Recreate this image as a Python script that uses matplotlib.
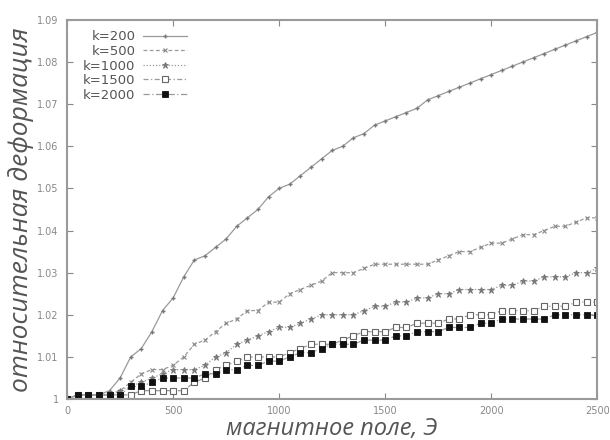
import matplotlib
matplotlib.use("Agg")
import matplotlib.pyplot as plt
from matplotlib.ticker import FixedLocator

field = [0, 50, 100, 150, 200, 250, 300, 350, 400, 450,
         500, 550, 600, 650, 700, 750, 800, 850, 900, 950,
         1000, 1050, 1100, 1150, 1200, 1250, 1300, 1350, 1400, 1450,
         1500, 1550, 1600, 1650, 1700, 1750, 1800, 1850, 1900, 1950,
         2000, 2050, 2100, 2150, 2200, 2250, 2300, 2350, 2400, 2450, 2500]

k200 = [1.000, 1.001, 1.001, 1.001, 1.002, 1.005, 1.010, 1.012, 1.016, 1.021,
        1.024, 1.029, 1.033, 1.034, 1.036, 1.038, 1.041, 1.043, 1.045, 1.048,
        1.050, 1.051, 1.053, 1.055, 1.057, 1.059, 1.060, 1.062, 1.063, 1.065,
        1.066, 1.067, 1.068, 1.069, 1.071, 1.072, 1.073, 1.074, 1.075, 1.076,
        1.077, 1.078, 1.079, 1.080, 1.081, 1.082, 1.083, 1.084, 1.085, 1.086, 1.087]

k500 = [1.000, 1.001, 1.001, 1.001, 1.001, 1.002, 1.004, 1.006, 1.007, 1.007,
        1.008, 1.010, 1.013, 1.014, 1.016, 1.018, 1.019, 1.021, 1.021, 1.023,
        1.023, 1.025, 1.026, 1.027, 1.028, 1.030, 1.030, 1.030, 1.031, 1.032,
        1.032, 1.032, 1.032, 1.032, 1.032, 1.033, 1.034, 1.035, 1.035, 1.036,
        1.037, 1.037, 1.038, 1.039, 1.039, 1.040, 1.041, 1.041, 1.042, 1.043, 1.043]

k1000 = [1.000, 1.001, 1.001, 1.001, 1.001, 1.002, 1.003, 1.004, 1.005, 1.006,
         1.007, 1.007, 1.007, 1.008, 1.010, 1.011, 1.013, 1.014, 1.015, 1.016,
         1.017, 1.017, 1.018, 1.019, 1.020, 1.020, 1.020, 1.020, 1.021, 1.022,
         1.022, 1.023, 1.023, 1.024, 1.024, 1.025, 1.025, 1.026, 1.026, 1.026,
         1.026, 1.027, 1.027, 1.028, 1.028, 1.029, 1.029, 1.029, 1.030, 1.030, 1.031]

k1500 = [1.000, 1.001, 1.001, 1.001, 1.001, 1.001, 1.001, 1.002, 1.002, 1.002,
         1.002, 1.002, 1.004, 1.005, 1.007, 1.008, 1.009, 1.010, 1.010, 1.010,
         1.010, 1.011, 1.012, 1.013, 1.013, 1.013, 1.014, 1.015, 1.016, 1.016,
         1.016, 1.017, 1.017, 1.018, 1.018, 1.018, 1.019, 1.019, 1.020, 1.020,
         1.020, 1.021, 1.021, 1.021, 1.021, 1.022, 1.022, 1.022, 1.023, 1.023, 1.023]

k2000 = [1.000, 1.001, 1.001, 1.001, 1.001, 1.001, 1.003, 1.003, 1.004, 1.005,
         1.005, 1.005, 1.005, 1.006, 1.006, 1.007, 1.007, 1.008, 1.008, 1.009,
         1.009, 1.010, 1.011, 1.011, 1.012, 1.013, 1.013, 1.013, 1.014, 1.014,
         1.014, 1.015, 1.015, 1.016, 1.016, 1.016, 1.017, 1.017, 1.017, 1.018,
         1.018, 1.019, 1.019, 1.019, 1.019, 1.019, 1.020, 1.020, 1.020, 1.020, 1.020]

series_labels = ["k=200", "k=500", "k=1000", "k=1500", "k=2000"]
x_ticks = [0, 500, 1000, 1500, 2000, 2500]
y_ticks = [1.00, 1.01, 1.02, 1.03, 1.04, 1.05, 1.06, 1.07, 1.08, 1.09]
y_tick_labels = ["1", "1.01", "1.02", "1.03", "1.04", "1.05", "1.06", "1.07", "1.08", "1.09"]

fig = plt.figure(figsize=(6.1, 4.4), dpi=100)
ax = fig.add_axes([0.110, 0.093, 0.869, 0.862])

line_c = "#9a9a9a"
styles = [
    dict(ls="-", marker="+", ms=3.5, mfc="#777777", mec="#777777", mew=1.0),
    dict(ls=(0, (3, 2)), marker="x", ms=3.5, mfc="#888888", mec="#888888", mew=0.8),
    dict(ls=(0, (1, 1.5)), marker="*", ms=4.5, mfc="#777777", mec="#777777", mew=0.6),
    dict(ls=(0, (4, 2, 1, 2)), marker="s", ms=5, mfc="white", mec="#666666", mew=0.8),
    dict(ls=(0, (5, 2, 1, 2)), marker="s", ms=5, mfc="#111111", mec="#111111", mew=0.6),
]
all_series = [k200, k500, k1000, k1500, k2000]
for vals, lab, st in zip(all_series, series_labels, styles):
    ax.plot(field, vals, color=line_c, lw=0.9, label=lab, **st)

ax.set_xlim(0, 2500)
ax.set_ylim(1.0, 1.09)
ax.xaxis.set_major_locator(FixedLocator(x_ticks))
ax.yaxis.set_major_locator(FixedLocator(y_ticks))
ax.set_xticklabels([str(v) for v in x_ticks])
ax.set_yticklabels(y_tick_labels)
ax.tick_params(direction="in", top=True, right=True, length=4, width=0.8,
               color="#888888", labelsize=7, labelcolor="#888888", pad=6)
ax.tick_params(axis="x", pad=5)
for sp in ax.spines.values():
    sp.set_color("#9a9a9a")
    sp.set_linewidth(1.5)

ax.set_xlabel("магнитное поле, Э", fontsize=17, style="italic",
              family="Open Sans", color="#555555", labelpad=1)
ax.set_ylabel("относительная деформация", fontsize=19, style="italic",
              family="Open Sans", color="#555555", labelpad=2)

leg = ax.legend(loc="upper left", frameon=False, markerfirst=False,
                handlelength=3.3, fontsize=9.5, labelspacing=0.12,
                borderaxespad=0.4, handletextpad=0.6,
                bbox_to_anchor=(0.01, 1.0))
for t in leg.get_texts():
    t.set_color("#555555")

fig.savefig("out.png", dpi=100)
